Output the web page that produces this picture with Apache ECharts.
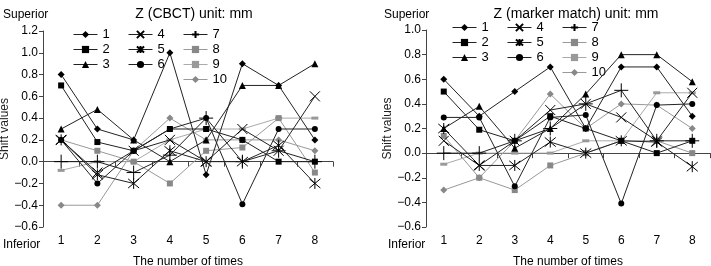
<!DOCTYPE html>
<html>
<head>
<meta charset="utf-8">
<script src="https://cdn.jsdelivr.net/npm/echarts@6/dist/echarts.min.js"></script>
<style>
  html, body { margin: 0; padding: 0; background: #fff; }
  #main { width: 711px; height: 266px; }
</style>
</head>
<body>
<div id="main"></div>
<script>
// categories (number of times)
const categories = ['1', '2', '3', '4', '5', '6', '7', '8'];
const seriesNames = ['1', '2', '3', '4', '5', '6', '7', '8', '9', '10'];

// Z (CBCT) shift values, mm
const cbct1 = [0.8, 0.3, 0.2, 1.0, -0.12, 0.9, 0.7, 0.2];
const cbct2 = [0.7, 0.18, 0.1, 0.3, 0.3, 0.2, 0.0, 0.0];
const cbct3 = [0.3, 0.48, 0.2, 0.0, 0.2, 0.7, 0.7, 0.9];
const cbct4 = [0.2, -0.1, 0.1, 0.2, 0.0, 0.3, 0.1, 0.6];
const cbct5 = [0.2, -0.12, -0.2, 0.1, 0.0, 0.0, 0.15, -0.2];
const cbct6 = [0.2, -0.2, 0.1, 0.3, 0.4, -0.39, 0.3, 0.3];
const cbct7 = [0.0, 0.0, -0.1, 0.06, 0.4, 0.0, 0.1, 0.0];
const cbct8 = [0.2, 0.1, 0.0, -0.2, 0.1, 0.13, 0.4, -0.1];
const cbct9 = [-0.08, 0.0, 0.0, 0.2, 0.3, 0.3, 0.4, 0.4];
const cbct10 = [-0.4, -0.4, 0.1, 0.4, 0.2, 0.2, 0.2, 0.1];

// Z (marker match) shift values, mm
const marker1 = [0.6, 0.3, 0.5, 0.7, 0.2, 0.7, 0.7, 0.3];
const marker2 = [0.5, 0.19, 0.1, 0.3, 0.2, 0.1, 0.0, 0.1];
const marker3 = [0.2, 0.38, 0.04, 0.2, 0.48, 0.8, 0.8, 0.58];
const marker4 = [0.1, -0.1, 0.1, 0.35, 0.4, 0.29, 0.1, 0.49];
const marker5 = [0.2, -0.1, -0.1, 0.09, 0.0, 0.1, 0.09, -0.11];
const marker6 = [0.29, 0.29, -0.27, 0.29, 0.31, -0.41, 0.39, 0.4];
const marker7 = [0.0, 0.0, 0.1, 0.2, 0.4, 0.51, 0.1, 0.1];
const marker8 = [0.14, -0.2, -0.3, -0.1, 0.0, 0.1, 0.1, 0.0];
const marker9 = [-0.09, 0.0, 0.0, 0.0, 0.1, 0.1, 0.49, 0.49];
const marker10 = [-0.3, -0.2, 0.1, 0.48, 0.2, 0.4, 0.39, 0.2];

const cbctData = [cbct1, cbct2, cbct3, cbct4, cbct5, cbct6, cbct7, cbct8, cbct9, cbct10];
const markerData = [marker1, marker2, marker3, marker4, marker5, marker6, marker7, marker8, marker9, marker10];

const FONT = '"Liberation Sans", Arial, sans-serif';
const X_PATH = 'path://M0,0L10,10M10,0L0,10';
const STAR_PATH = 'path://M0,0L10,10M10,0L0,10M5,-1L5,11';
const PLUS_PATH = 'path://M5,0L5,10M0,5L10,5';

// marker look of each series
const looks = [
    {symbol: 'diamond', size: 7, color: '#000', line: '#222'},
    {symbol: 'rect', size: 6, color: '#000', line: '#222'},
    {symbol: 'triangle', size: 7, color: '#000', line: '#222'},
    {symbol: X_PATH, size: 10, color: '#000', line: '#222', stroke: true},
    {symbol: STAR_PATH, size: 11, color: '#000', line: '#222', stroke: true},
    {symbol: 'circle', size: 6, color: '#000', line: '#222'},
    {symbol: PLUS_PATH, size: 14, color: '#000', line: '#222', stroke: true},
    {symbol: 'rect', size: 6, color: '#888', line: '#999'},
    {symbol: 'rect', size: [7, 3], color: '#999', line: '#aaa'},
    {symbol: 'diamond', size: 7, color: '#888', line: '#999'}
];

const minusFmt = v => {
    const s = Math.abs(v).toFixed(1);
    return v < -1e-9 ? '\u2212' + s : s;
};

function makeSeries(dataList, axisIdx) {
    return dataList.map((vals, i) => {
        const lk = looks[i];
        return {
            name: seriesNames[i],
            type: 'line',
            xAxisIndex: axisIdx,
            yAxisIndex: axisIdx,
            data: vals,
            symbol: lk.symbol,
            symbolSize: lk.size,
            showAllSymbol: true,
            animation: false,
            lineStyle: {color: lk.line, width: 1},
            itemStyle: {
                color: lk.color,
                borderColor: lk.color,
                borderWidth: lk.stroke ? 1 : 0,
                opacity: 1
            },
            emphasis: {disabled: true},
            z: 10 - i
        };
    });
}

function makeLegends(x0, y0) {
    const cols = [['1', '2', '3'], ['4', '5', '6'], ['7', '8', '9', '10']];
    const offs = [0, 55, 110];
    return cols.map((c, k) => ({
        data: c,
        orient: 'vertical',
        left: x0 + offs[k],
        top: y0,
        padding: 0,
        itemWidth: 24,
        itemHeight: 9,
        itemGap: 2,
        selectedMode: false,
        lineStyle: {width: 1},
        textStyle: {fontSize: 13, color: '#000', fontFamily: FONT}
    }));
}

function yAxisFor(gridIdx, max) {
    return {
        gridIndex: gridIdx,
        type: 'value',
        min: -0.6,
        max: max,
        interval: 0.2,
        name: 'Shift values',
        nameLocation: 'middle',
        nameRotate: 90,
        nameGap: 30,
        nameTextStyle: {fontSize: 12, color: '#222', fontFamily: FONT},
        axisLine: {show: true, lineStyle: {color: '#444', width: 1}},
        axisTick: {show: true, length: 4, lineStyle: {color: '#444'}},
        splitLine: {show: false},
        axisLabel: {fontSize: 12, color: '#000', fontFamily: FONT, margin: 5, formatter: minusFmt}
    };
}

function xAxisFor(gridIdx) {
    return {
        gridIndex: gridIdx,
        type: 'category',
        data: categories,
        boundaryGap: true,
        name: 'The number of times',
        nameLocation: 'middle',
        nameGap: 29,
        nameTextStyle: {fontSize: 12, color: '#000', fontFamily: FONT},
        axisLine: {show: true, lineStyle: {color: '#444', width: 1}},
        axisTick: {show: true, length: 5, lineStyle: {color: '#444'}},
        splitLine: {show: false},
        axisLabel: {fontSize: 12, color: '#000', fontFamily: FONT, margin: 8}
    };
}

function label(text, x, y, align) {
    return {
        type: 'text',
        left: x,
        top: y,
        style: {text: text, fontSize: 12, fill: '#000', fontFamily: FONT, textAlign: align || 'left'}
    };
}

const option = {
    backgroundColor: '#fff',
    animation: false,
    title: [
        {text: 'Z (CBCT) unit: mm', left: 189, top: 2, textAlign: 'center',
         textStyle: {fontSize: 14, fontWeight: 'normal', color: '#000', fontFamily: FONT}},
        {text: 'Z (marker match) unit: mm', left: 571, top: 2, textAlign: 'center',
         textStyle: {fontSize: 14, fontWeight: 'normal', color: '#000', fontFamily: FONT}}
    ],
    legend: makeLegends(73, 28).concat(makeLegends(452, 21)),
    grid: [
        {left: 43, top: 31, width: 290, bottom: 39, containLabel: false, outerBoundsMode: 'none'},
        {left: 426, top: 30, width: 284, bottom: 39, containLabel: false, outerBoundsMode: 'none'}
    ],
    xAxis: [xAxisFor(0), xAxisFor(1)],
    yAxis: [yAxisFor(0, 1.2), yAxisFor(1, 1.0)],
    graphic: [
        label('Superior', 3, 9),
        label('Inferior', 3, 239),
        label('Superior', 384, 9),
        label('Inferior', 388, 239)
    ],
    series: makeSeries(cbctData, 0).concat(makeSeries(markerData, 1))
};

const chart = echarts.init(document.getElementById('main'), null, {renderer: 'canvas'});
chart.setOption(option);
</script>
</body>
</html>
